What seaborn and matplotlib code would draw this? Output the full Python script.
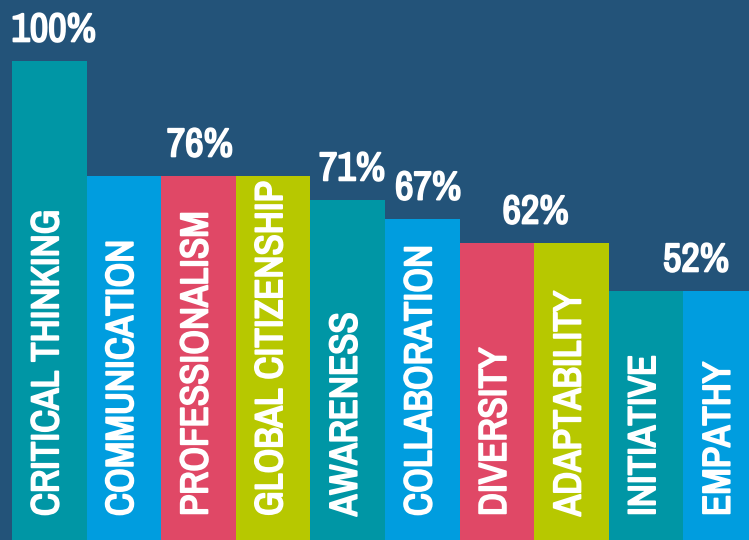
import matplotlib
matplotlib.use("Agg")
import matplotlib.pyplot as plt
import matplotlib.patheffects as pe
import seaborn as sns
import pandas as pd

categories = ["CRITICAL THINKING", "COMMUNICATION", "PROFESSIONALISM", "GLOBAL CITIZENSHIP",
              "AWARENESS", "COLLABORATION", "DIVERSITY", "ADAPTABILITY", "INITIATIVE", "EMPATHY"]
values = [100, 76, 76, 76, 71, 67, 62, 62, 52, 52]
bar_colors = ["#0096a5", "#009ddf", "#e04866", "#b7c800",
              "#0096a5", "#009ddf", "#e04866", "#b7c800", "#0096a5", "#009ddf"]
pct_labels = ["100%", "76%", "71%", "67%", "62%", "52%"]
pct_bar_index = [0, 2, 4, 5, 6, 8]

BG = "#235379"
FONT = ["Archivo Narrow", "Barlow Condensed", "DejaVu Sans"]
BOLDEN = [pe.withStroke(linewidth=1.35, foreground="white")]

sns.set_theme(style="white")
plt.rcParams["font.family"] = FONT

df = pd.DataFrame({"skill": categories, "value": values})

fig = plt.figure(figsize=(7.49, 5.40), dpi=100, facecolor=BG)
ax = fig.add_axes([0, 0, 1, 1])
ax.set_facecolor(BG)

sns.barplot(data=df, x="skill", y="value", hue="skill", palette=bar_colors,
            width=1.0, legend=False, linewidth=0, saturation=1, ax=ax)

ax.set_xlim(-0.66, 9.38)
ax.set_ylim(0, 112.7)
for s in ax.spines.values():
    s.set_visible(False)
ax.set_xticks([])
ax.set_yticks([])
ax.set_xlabel("")
ax.set_ylabel("")

# category labels inside bars
for i, name in enumerate(categories):
    ax.text(i - 0.02, 5.0, name, rotation=90, ha="center", va="bottom",
            color="white", fontsize=28, fontweight="bold", family=FONT,
            path_effects=BOLDEN)

# percentage labels above bars
offsets = [0.06, 0.02, 0.06, 0.08, 0.52, 0.67]
for lab, idx, off in zip(pct_labels, pct_bar_index, offsets):
    ax.annotate(lab, xy=(idx + off, values[idx]), xytext=(0, 14),
                textcoords="offset points", ha="center", va="baseline",
                color="white", fontsize=29, fontweight="bold", family=FONT,
                path_effects=BOLDEN)

fig.savefig("out.png", dpi=100, facecolor=BG)
